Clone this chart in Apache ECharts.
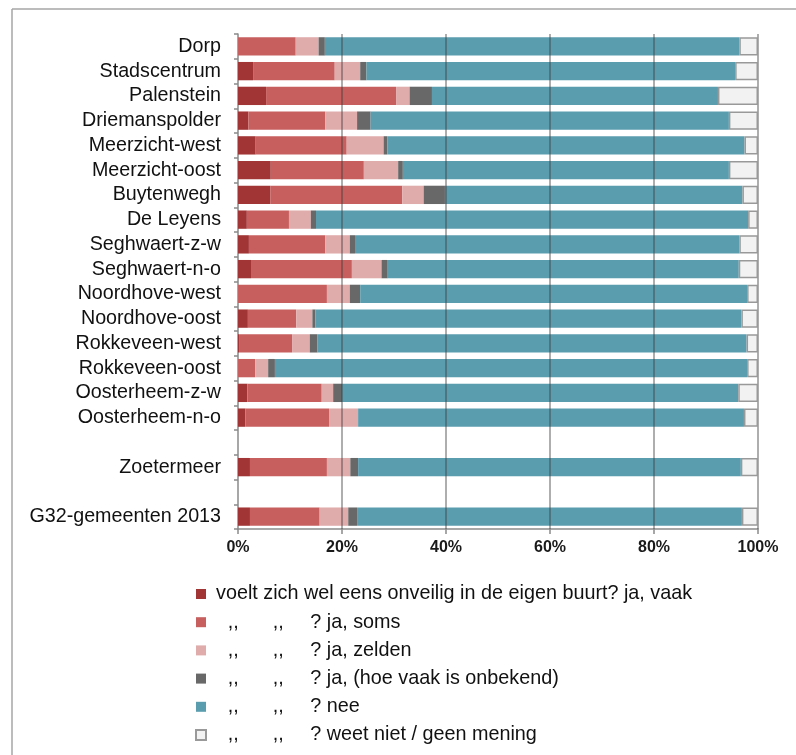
<!DOCTYPE html>
<html>
<head>
<meta charset="utf-8">
<script src="https://cdn.jsdelivr.net/npm/echarts@6/dist/echarts.min.js"></script>
<style>
html,body{margin:0;padding:0;background:#fff;}
#chart{width:796px;height:755px;}
</style>
</head>
<body>
<div id="chart"></div>
<script>
const categories = ['Dorp','Stadscentrum','Palenstein','Driemanspolder','Meerzicht-west','Meerzicht-oost','Buytenwegh','De Leyens','Seghwaert-z-w','Seghwaert-n-o','Noordhove-west','Noordhove-oost','Rokkeveen-west','Rokkeveen-oost','Oosterheem-z-w','Oosterheem-n-o','','Zoetermeer','','G32-gemeenten 2013'];
const jaVaak     = [0, 2.9, 5.4, 2.0, 3.4, 6.3, 6.2, 1.7, 2.1, 2.5, 0, 1.9, 0.2, 0, 1.8, 1.4, null, 2.3, null, 2.3];
const jaSoms     = [11.1, 15.7, 25.0, 14.8, 17.5, 17.9, 25.4, 8.1, 14.7, 19.4, 17.1, 9.3, 10.2, 3.3, 14.3, 16.1, null, 14.8, null, 13.4];
const jaZelden   = [4.4, 4.9, 2.6, 6.1, 7.1, 6.6, 4.1, 4.2, 4.7, 5.7, 4.4, 3.1, 3.4, 2.5, 2.2, 5.6, null, 4.5, null, 5.5];
const jaOnbekend = [1.2, 1.2, 4.3, 2.6, 0.7, 0.9, 4.1, 1.0, 1.0, 1.2, 2.0, 0.6, 1.5, 1.3, 1.7, 0, null, 1.5, null, 1.7];
const nee        = [79.7, 70.9, 55.0, 68.9, 68.7, 62.7, 57.2, 83.1, 73.9, 67.5, 74.4, 81.9, 82.5, 90.8, 76.2, 74.2, null, 73.6, null, 74.0];
const weetNiet   = [3.6, 4.4, 7.7, 5.6, 2.6, 5.6, 3.0, 1.9, 3.6, 3.7, 2.1, 3.2, 2.2, 2.1, 3.8, 2.7, null, 3.3, null, 3.1];
const xTicks = [0, 20, 40, 60, 80, 100];
const seriesNames = ['ja, vaak','ja, soms','ja, zelden','ja, (hoe vaak is onbekend)','nee','weet niet / geen mening'];
const legendLead = 'voelt zich wel eens onveilig in de eigen buurt?';
const colors = ['#a13434','#c65f5e','#e0abab','#686868','#5a9daf','#f2f2f2'];

const FONT = '"Liberation Sans", Arial, sans-serif';
const chart = echarts.init(document.getElementById('chart'), null, {renderer:'canvas'});

const datasets = [jaVaak, jaSoms, jaZelden, jaOnbekend, nee, weetNiet];
const series = datasets.map((d, i) => {
  const s = {
    name: seriesNames[i],
    type: 'bar',
    stack: 'total',
    barCategoryGap: '26%',
    data: d,
    itemStyle: { color: colors[i] },
    emphasis: { disabled: true }
  };
  if (i === 5) {
    s.itemStyle.borderColor = '#999999';
    s.itemStyle.borderWidth = 1.5;
    s.z = 5;
    s.markLine = {
      silent: true,
      symbol: ['none','none'],
      label: { show: false },
      lineStyle: { color: 'rgba(60,60,60,0.55)', width: 1.5, type: 'solid' },
      data: xTicks.slice(1).map(v => ({ xAxis: v }))
    };
  }
  return s;
});

chart.setOption({
  backgroundColor: '#fff',
  animation: false,
  textStyle: { fontFamily: FONT },
  grid: { left: 238, right: 38, top: 34, bottom: 226, containLabel: false },
  xAxis: {
    type: 'value', min: 0, max: 100, interval: 20,
    axisLine: { show: true, lineStyle: { color: '#8a8a8a', width: 1.5 } },
    axisTick: { show: true, length: 5, lineStyle: { color: '#8a8a8a', width: 1.5 } },
    splitLine: { show: false },
    axisLabel: { formatter: '{value}%', fontFamily: FONT, fontSize: 16, fontWeight: 'bold', color: '#1a1a1a', margin: 11 }
  },
  yAxis: {
    type: 'category', data: categories, inverse: true,
    axisLine: { show: true, lineStyle: { color: '#8a8a8a', width: 1.5 } },
    axisTick: { show: true, length: 4, interval: 0, lineStyle: { color: '#8a8a8a', width: 1.5 } },
    axisLabel: { interval: 0, fontFamily: FONT, fontSize: 19.7, color: '#111', margin: 17 }
  },
  legend: {
    orient: 'vertical', left: 195, top: 584, padding: 0,
    itemWidth: 10, itemHeight: 10, itemGap: 8.2, icon: 'rect',
    selectedMode: false,
    data: seriesNames,
    textStyle: {
      fontFamily: FONT, fontSize: 19.8, color: '#111',
      rich: {
        s0: { width: 5, lineHeight: 20, fontSize: 19.8 },
        s1: { width: 16.7, lineHeight: 20, fontSize: 19.8 },
        a: { width: 45, lineHeight: 20, fontSize: 19.8 },
        b: { width: 37.6, lineHeight: 20, fontSize: 19.8 },
        t: { lineHeight: 20, fontSize: 19.8 }
      }
    },
    formatter: function (name) {
      const idx = seriesNames.indexOf(name);
      if (idx === 0) return '{s0| }{t|' + legendLead + ' ' + name + '}';
      return '{s1| }{a|,,}{b|,,}{t|? ' + name + '}';
    }
  },
  graphic: [
    { type: 'line', shape: { x1: 12, y1: 9, x2: 796, y2: 9 }, style: { stroke: '#a6a6a6', lineWidth: 1.5 }, silent: true },
    { type: 'line', shape: { x1: 12, y1: 9, x2: 12, y2: 755 }, style: { stroke: '#a6a6a6', lineWidth: 1.5 }, silent: true }
  ],
  series: series
});
</script>
</body>
</html>
